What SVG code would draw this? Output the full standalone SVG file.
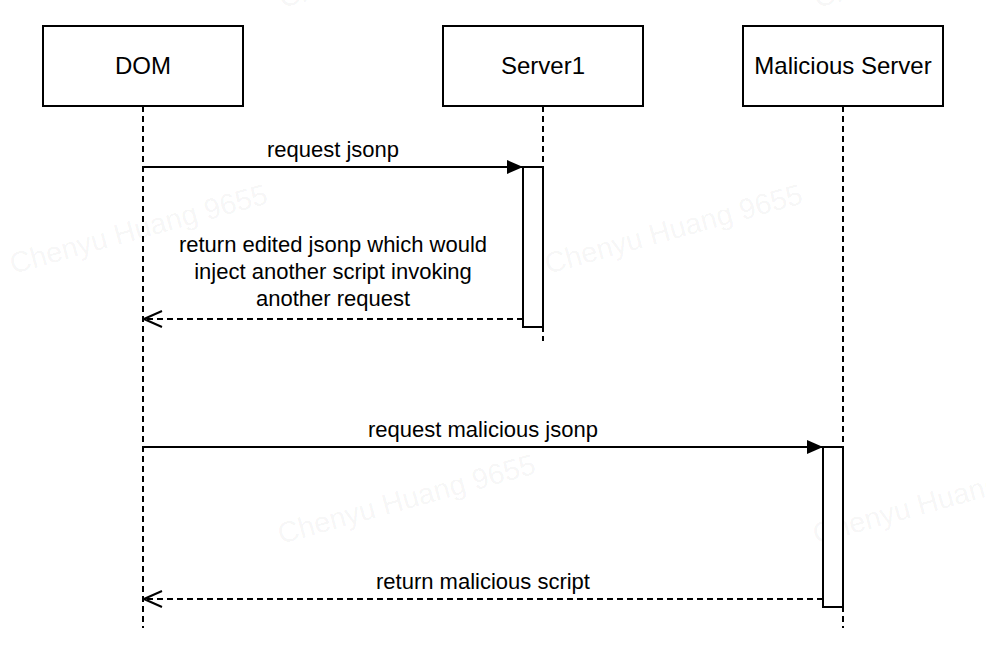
<svg xmlns="http://www.w3.org/2000/svg" width="986" height="650" viewBox="0 0 986 650">
<style>
text{font-family:"Liberation Sans",Arial,Helvetica,sans-serif;font-size:22px;fill:#000}
.lbl{font-size:24px}
.wm{font-size:29px;fill:#000;fill-opacity:0.05}
.box{fill:#fff;stroke:#000;stroke-width:2}
.life{stroke:#000;stroke-width:2;stroke-dasharray:6 4;fill:none}
.msg{stroke:#000;stroke-width:2;fill:none}
.ret{stroke:#000;stroke-width:2;stroke-dasharray:6 4;fill:none}
</style>
<defs>
<marker id="filled" markerWidth="16" markerHeight="14" refX="16" refY="7" orient="auto" markerUnits="userSpaceOnUse">
<path d="M0,0 L16,7 L0,14 Z" fill="#000"/>
</marker>
<marker id="open" markerWidth="20" markerHeight="20" refX="19" refY="10" orient="auto" markerUnits="userSpaceOnUse">
<path d="M1,2 L19,10 L1,18" fill="none" stroke="#000" stroke-width="2"/>
</marker>
</defs>
<rect width="986" height="650" fill="#fff"/>
<g id="watermarks">
<text class="wm" transform="translate(13,274) rotate(-15.5)">Chenyu Huang 9655</text>
<text class="wm" transform="translate(548,274) rotate(-15.5)">Chenyu Huang 9655</text>
<text class="wm" transform="translate(281,544) rotate(-15.5)">Chenyu Huang 9655</text>
<text class="wm" transform="translate(816,544) rotate(-15.5)">Chenyu Huang 9655</text>
<text class="wm" transform="translate(282,8) rotate(-15.5)">Chenyu Huang 9655</text>
<text class="wm" transform="translate(817,8) rotate(-15.5)">Chenyu Huang 9655</text>
<text class="wm" transform="translate(-254,544) rotate(-15.5)">Chenyu Huang 9655</text>
</g>
<g id="lifelines">
<line class="life" x1="143" y1="106" x2="143" y2="628"/>
<line class="life" x1="543" y1="106" x2="543" y2="341"/>
<line class="life" x1="843" y1="106" x2="843" y2="628"/>
</g>
<g id="DOM">
<rect class="box" x="43" y="26" width="200" height="80"/>
<text class="lbl" x="143" y="74" text-anchor="middle">DOM</text>
</g>
<g id="Server1">
<rect class="box" x="443" y="26" width="200" height="80"/>
<text class="lbl" x="543" y="74" text-anchor="middle">Server1</text>
</g>
<g id="MaliciousServer">
<rect class="box" x="743" y="26" width="200" height="80"/>
<text class="lbl" x="843" y="74" text-anchor="middle">Malicious Server</text>
</g>
<g id="activation1">
<rect class="box" x="523" y="167" width="20" height="160"/>
</g>
<g id="activation2">
<rect class="box" x="823" y="447" width="20" height="160"/>
</g>
<g id="connectors">
<line class="msg" x1="143" y1="167" x2="523" y2="167" marker-end="url(#filled)"/>
<text x="333" y="157" text-anchor="middle">request jsonp</text>
<line class="ret" x1="523" y1="319" x2="144" y2="319" marker-end="url(#open)"/>
<text x="333" y="252" text-anchor="middle">return edited jsonp which would</text>
<text x="333" y="279" text-anchor="middle">inject another script invoking</text>
<text x="333" y="306" text-anchor="middle">another request</text>
<line class="msg" x1="143" y1="447" x2="823" y2="447" marker-end="url(#filled)"/>
<text x="483" y="437" text-anchor="middle">request malicious jsonp</text>
<line class="ret" x1="823" y1="599" x2="144" y2="599" marker-end="url(#open)"/>
<text x="483" y="589" text-anchor="middle">return malicious script</text>
</g>
</svg>
